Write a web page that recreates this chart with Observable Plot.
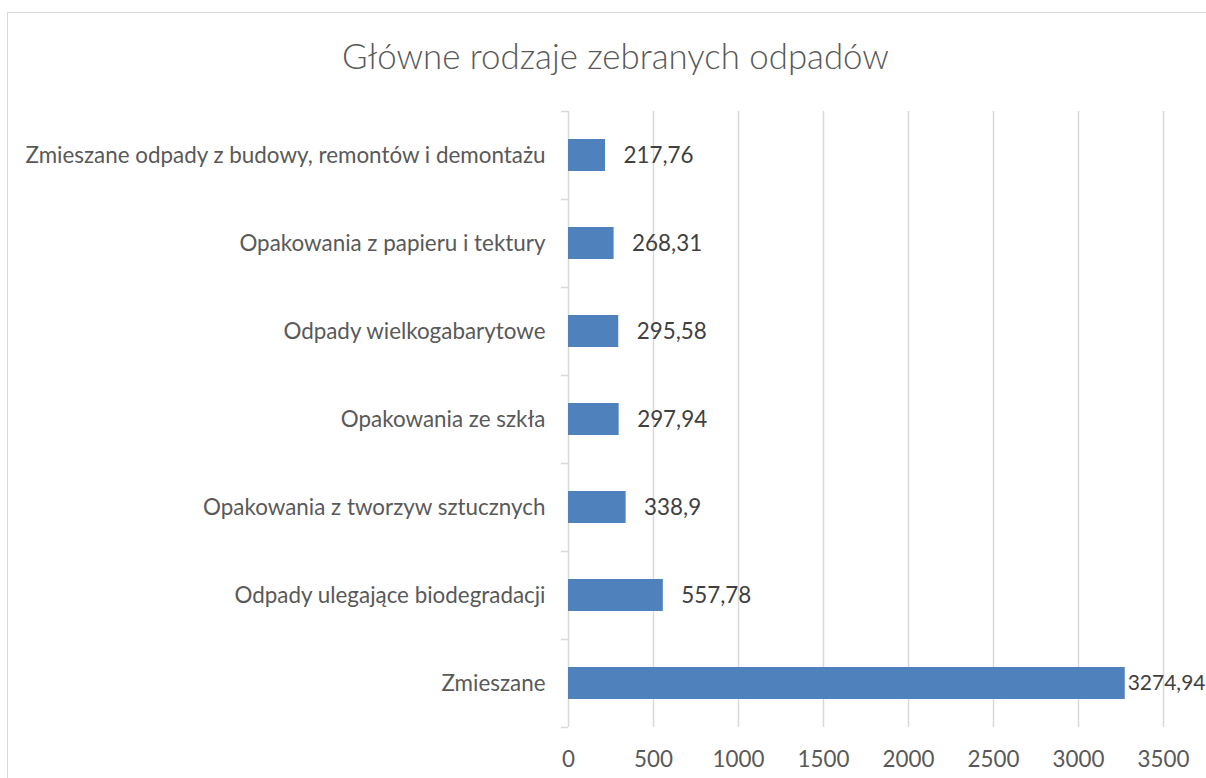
<!DOCTYPE html>
<html>
<head>
<meta charset="utf-8">
<script src="https://cdn.jsdelivr.net/npm/d3@7"></script>
<script src="https://cdn.jsdelivr.net/npm/@observablehq/plot@0.6"></script>
<style>
  html, body { margin: 0; padding: 0; background: #fff; }
  #wrap { position: relative; width: 1206px; height: 778px; overflow: hidden; }
  #frame { position: absolute; left: 7px; top: 12px; width: 1400px; height: 1000px; border: 1px solid #d9d9d9; box-sizing: border-box; }
  #title { position: relative; height: 100px; box-sizing: border-box; padding-top: 36px; padding-left: 25px;
           text-align: center; font-family: Lato, sans-serif; font-weight: 300; font-size: 34.8px; line-height: 40px; color: #595959; }
  #chart { position: relative; }
</style>
</head>
<body>
<div id="wrap">
  <div id="frame"></div>
  <div id="title">Główne rodzaje zebranych odpadów</div>
  <div id="chart"></div>
</div>
<script>
const categories = [
  "Zmieszane odpady z budowy, remontów i demontażu",
  "Opakowania z papieru i tektury",
  "Odpady wielkogabarytowe",
  "Opakowania ze szkła",
  "Opakowania z tworzyw sztucznych",
  "Odpady ulegające biodegradacji",
  "Zmieszane"
];
const values = [217.76, 268.31, 295.58, 297.94, 338.9, 557.78, 3274.94];
const valueLabels = ["217,76", "268,31", "295,58", "297,94", "338,9", "557,78", "3274,94"];
const xTicks = [0, 500, 1000, 1500, 2000, 2500, 3000, 3500];

const data = categories.map((c, i) => ({category: c, value: values[i], label: valueLabels[i]}));

const W = 1206, H = 678, mt = 11, mb = 51, ml = 568, mr = 0;
const pxPerUnit = 85 / 500;
const xMax = (W - ml - mr) / pxPerUnit;
const step = (H - mt - mb) / categories.length;
const tickLen = 7 / pxPerUnit;
const fs = 22.4;

const chart = Plot.plot({
  width: W, height: H,
  marginTop: mt, marginBottom: mb, marginLeft: ml, marginRight: mr,
  style: {fontFamily: "Lato, sans-serif", fontSize: fs + "px", color: "#595959", background: "transparent"},
  x: {domain: [0, xMax]},
  y: {domain: categories, paddingInner: 0.64, paddingOuter: 0.32},
  marks: [
    Plot.ruleX(xTicks, {stroke: "#d9d9d9", strokeWidth: 1.5}),
    Plot.ruleY(categories, {y: d => d, x1: -tickLen, x2: 0, dy: -step / 2, stroke: "#d9d9d9", strokeWidth: 1.5}),
    Plot.ruleY(categories.slice(-1), {y: d => d, x1: -tickLen, x2: 0, dy: step / 2, stroke: "#d9d9d9", strokeWidth: 1.5}),
    Plot.barX(data, {x: "value", y: "category", fill: "#4F81BD"}),
    Plot.text(data.filter(d => d.value < 3000), {x: "value", y: "category", text: "label", textAnchor: "start", dx: 18, fill: "#404040", fontSize: fs}),
    // the largest label is kept inside the frame's right edge, as the original chart does
    Plot.text(data.filter(d => d.value >= 3000), {y: "category", frameAnchor: "right", text: "label", textAnchor: "end", dx: -1, fill: "#404040", fontSize: 21}),
    Plot.axisX({ticks: xTicks, tickSize: 0, tickPadding: 24, tickFormat: d => String(d), fontSize: fs, label: null}),
    Plot.axisY({tickSize: 0, tickPadding: 23, fontSize: fs, label: null})
  ]
});
document.getElementById("chart").appendChild(chart);
</script>
</body>
</html>
